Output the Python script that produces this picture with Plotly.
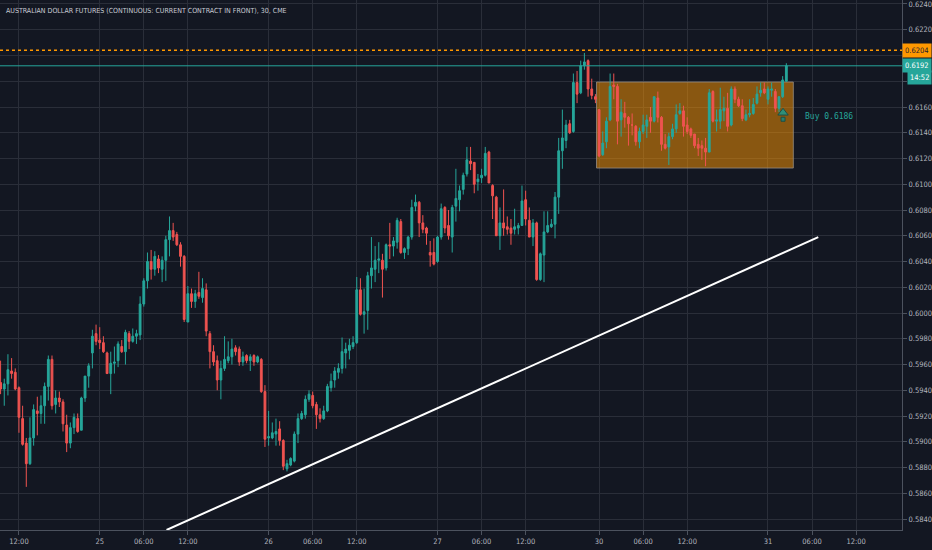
import plotly.graph_objects as go

# 30분봉 AUD 선물 데이터
bar_index = list(range(-5, 210))

opens = [
    0.5946, 0.5941, 0.5945, 0.5955, 0.5954, 0.5942, 0.5918, 0.5899, 0.5883, 0.5903,
    0.5924, 0.5922, 0.5928, 0.5943, 0.5964, 0.5929, 0.5934, 0.5931, 0.5913, 0.5899,
    0.5911, 0.5918, 0.5909, 0.5934, 0.5951, 0.5969, 0.5984, 0.5979, 0.5977, 0.5969,
    0.5953, 0.5961, 0.5963, 0.5974, 0.5970, 0.5984, 0.5978, 0.5982,
    0.5983, 0.6007, 0.6025, 0.6040, 0.6034, 0.6042, 0.6034, 0.6041, 0.6057, 0.6064,
    0.6061, 0.6053, 0.6044, 0.5993, 0.6015, 0.6009, 0.6016, 0.6012, 0.6018, 0.5984,
    0.5970, 0.5963, 0.5948, 0.5957, 0.5963, 0.5966, 0.5973, 0.5972, 0.5962, 0.5967,
    0.5963, 0.5967, 0.5962, 0.5964, 0.5939, 0.5903, 0.5903, 0.5906,
    0.5910, 0.5901, 0.5879, 0.5882, 0.5885, 0.5906, 0.5918, 0.5921, 0.5933, 0.5936,
    0.5929, 0.5921, 0.5918, 0.5924, 0.5942, 0.5948, 0.5954, 0.5957, 0.5969, 0.5971,
    0.5974, 0.5977, 0.6018, 0.5999, 0.6002, 0.6029, 0.6034, 0.6041, 0.6041, 0.6035,
    0.6053, 0.6052, 0.6055, 0.6071,
    0.6047, 0.6050, 0.6059, 0.6083, 0.6086, 0.6070, 0.6066, 0.6047, 0.6047, 0.6040,
    0.6059, 0.6082, 0.6068, 0.6059, 0.6083, 0.6088, 0.6096, 0.6108, 0.6118, 0.6117,
    0.6102, 0.6105, 0.6107, 0.6125, 0.6099, 0.6090, 0.6060, 0.6070, 0.6067, 0.6066,
    0.6065, 0.6066, 0.6068, 0.6088, 0.6072, 0.6059, 0.6070, 0.6026, 0.6045, 0.6063,
    0.6067,
    0.6069, 0.6090, 0.6126, 0.6134, 0.6147, 0.6141, 0.6179, 0.6171, 0.6192, 0.6196,
    0.6174, 0.6168, 0.6158, 0.6123, 0.6133, 0.6150, 0.6177, 0.6176, 0.6150, 0.6155,
    0.6152, 0.6146, 0.6145, 0.6133, 0.6141, 0.6145, 0.6152, 0.6149, 0.6167, 0.6152,
    0.6131, 0.6129,
    0.6137, 0.6143, 0.6155, 0.6157, 0.6146, 0.6143, 0.6139, 0.6131, 0.6130, 0.6128,
    0.6125, 0.6172, 0.6149, 0.6149, 0.6157, 0.6159, 0.6146, 0.6174, 0.6166, 0.6161,
    0.6150, 0.6154, 0.6155, 0.6163, 0.6171, 0.6174, 0.6166, 0.6173, 0.6172, 0.6159,
    0.6168, 0.6180,
]

highs = [
    0.5963, 0.5949, 0.5968, 0.5965, 0.5957, 0.5943, 0.5928, 0.5903, 0.5919, 0.5929,
    0.5935, 0.5936, 0.5946, 0.5967, 0.5967, 0.5940, 0.5939, 0.5933, 0.5921, 0.5915,
    0.5922, 0.5922, 0.5935, 0.5951, 0.5961, 0.5987, 0.5991, 0.5989, 0.5982, 0.5970,
    0.5970, 0.5974, 0.5978, 0.5979, 0.5987, 0.5986, 0.5988, 0.5987,
    0.6013, 0.6027, 0.6047, 0.6049, 0.6048, 0.6045, 0.6044, 0.6060, 0.6075, 0.6070,
    0.6063, 0.6055, 0.6045, 0.6021, 0.6019, 0.6018, 0.6032, 0.6027, 0.6023, 0.5986,
    0.5975, 0.5967, 0.5963, 0.5982, 0.5978, 0.5980, 0.5975, 0.5974, 0.5970, 0.5968,
    0.5968, 0.5968, 0.5967, 0.5965, 0.5944, 0.5924, 0.5915, 0.5918,
    0.5916, 0.5902, 0.5886, 0.5888, 0.5908, 0.5922, 0.5924, 0.5936, 0.5940, 0.5939,
    0.5931, 0.5926, 0.5928, 0.5945, 0.5953, 0.5958, 0.5961, 0.5981, 0.5977, 0.5980,
    0.5982, 0.6028, 0.6027, 0.6019, 0.6032, 0.6059, 0.6052, 0.6055, 0.6046, 0.6054,
    0.6070, 0.6059, 0.6074, 0.6073,
    0.6051, 0.6060, 0.6088, 0.6092, 0.6087, 0.6076, 0.6067, 0.6056, 0.6058, 0.6060,
    0.6085, 0.6083, 0.6080, 0.6084, 0.6112, 0.6099, 0.6109, 0.6129, 0.6129, 0.6117,
    0.6108, 0.6112, 0.6129, 0.6126, 0.6100, 0.6091, 0.6082, 0.6096, 0.6075, 0.6073,
    0.6081, 0.6070, 0.6099, 0.6095, 0.6082, 0.6073, 0.6071, 0.6047, 0.6079, 0.6079,
    0.6073,
    0.6094, 0.6136, 0.6158, 0.6150, 0.6150, 0.6186, 0.6188, 0.6196, 0.6202, 0.6197,
    0.6182, 0.6170, 0.6158, 0.6141, 0.6152, 0.6186, 0.6186, 0.6178, 0.6166, 0.6164,
    0.6153, 0.6155, 0.6146, 0.6144, 0.6154, 0.6154, 0.6160, 0.6168, 0.6172, 0.6153,
    0.6139, 0.6140,
    0.6147, 0.6162, 0.6163, 0.6161, 0.6152, 0.6144, 0.6139, 0.6136, 0.6134, 0.6136,
    0.6174, 0.6173, 0.6158, 0.6175, 0.6168, 0.6171, 0.6176, 0.6176, 0.6168, 0.6166,
    0.6158, 0.6166, 0.6167, 0.6176, 0.6179, 0.6179, 0.6176, 0.6179, 0.6174, 0.6168,
    0.6184, 0.6194,
]

lows = [
    0.5937, 0.5928, 0.5936, 0.5949, 0.5940, 0.5907, 0.5897, 0.5865, 0.5882, 0.5897,
    0.5905, 0.5914, 0.5914, 0.5932, 0.5925, 0.5922, 0.5927, 0.5908, 0.5892, 0.5895,
    0.5906, 0.5907, 0.5909, 0.5931, 0.5942, 0.5957, 0.5975, 0.5972, 0.5969, 0.5953,
    0.5937, 0.5953, 0.5958, 0.5969, 0.5960, 0.5972, 0.5977, 0.5976,
    0.5979, 0.6005, 0.6019, 0.6026, 0.6029, 0.6031, 0.6024, 0.6025, 0.6044, 0.6056,
    0.6052, 0.6036, 0.5993, 0.5993, 0.6004, 0.6004, 0.6011, 0.6008, 0.5982, 0.5957,
    0.5959, 0.5940, 0.5933, 0.5955, 0.5961, 0.5960, 0.5967, 0.5959, 0.5959, 0.5961,
    0.5955, 0.5959, 0.5961, 0.5938, 0.5896, 0.5897, 0.5902, 0.5897,
    0.5897, 0.5878, 0.5877, 0.5881, 0.5884, 0.5899, 0.5917, 0.5918, 0.5931, 0.5926,
    0.5910, 0.5915, 0.5917, 0.5923, 0.5939, 0.5942, 0.5949, 0.5953, 0.5957, 0.5964,
    0.5972, 0.5976, 0.5998, 0.5984, 0.5987, 0.6019, 0.6024, 0.6031, 0.6012, 0.6033,
    0.6042, 0.6044, 0.6050, 0.6046,
    0.6042, 0.6045, 0.6057, 0.6079, 0.6059, 0.6062, 0.6053, 0.6036, 0.6037, 0.6039,
    0.6057, 0.6062, 0.6057, 0.6047, 0.6071, 0.6079, 0.6092, 0.6106, 0.6111, 0.6093,
    0.6095, 0.6101, 0.6106, 0.6101, 0.6073, 0.6060, 0.6049, 0.6060, 0.6061, 0.6053,
    0.6061, 0.6061, 0.6068, 0.6068, 0.6059, 0.6052, 0.6025, 0.6025, 0.6024, 0.6062,
    0.6066,
    0.6058, 0.6077, 0.6112, 0.6128, 0.6139, 0.6140, 0.6163, 0.6170, 0.6189, 0.6168,
    0.6166, 0.6163, 0.6121, 0.6122, 0.6128, 0.6149, 0.6166, 0.6131, 0.6137, 0.6144,
    0.6130, 0.6138, 0.6130, 0.6128, 0.6139, 0.6136, 0.6140, 0.6148, 0.6148, 0.6126,
    0.6127, 0.6115,
    0.6135, 0.6140, 0.6154, 0.6137, 0.6139, 0.6136, 0.6128, 0.6122, 0.6119, 0.6114,
    0.6125, 0.6148, 0.6141, 0.6143, 0.6149, 0.6141, 0.6145, 0.6163, 0.6160, 0.6149,
    0.6149, 0.6152, 0.6154, 0.6162, 0.6168, 0.6170, 0.6162, 0.6168, 0.6156, 0.6156,
    0.6167, 0.6180,
]

closes = [
    0.5941, 0.5945, 0.5956, 0.5953, 0.5941, 0.5919, 0.5898, 0.5883, 0.5903, 0.5925,
    0.5922, 0.5928, 0.5943, 0.5964, 0.5928, 0.5934, 0.5931, 0.5914, 0.5899, 0.5911,
    0.5919, 0.5908, 0.5934, 0.5951, 0.5959, 0.5982, 0.5978, 0.5977, 0.5970, 0.5953,
    0.5961, 0.5962, 0.5976, 0.5970, 0.5985, 0.5978, 0.5982, 0.5984,
    0.6007, 0.6025, 0.6040, 0.6034, 0.6044, 0.6035, 0.6041, 0.6057, 0.6064, 0.6059,
    0.6053, 0.6044, 0.5995, 0.6015, 0.6009, 0.6015, 0.6013, 0.6019, 0.5986, 0.5970,
    0.5962, 0.5948, 0.5957, 0.5964, 0.5966, 0.5972, 0.5970, 0.5962, 0.5966, 0.5963,
    0.5966, 0.5962, 0.5966, 0.5939, 0.5902, 0.5904, 0.5907, 0.5908,
    0.5901, 0.5881, 0.5883, 0.5887, 0.5906, 0.5918, 0.5922, 0.5933, 0.5937, 0.5928,
    0.5921, 0.5918, 0.5924, 0.5943, 0.5947, 0.5955, 0.5957, 0.5970, 0.5972, 0.5975,
    0.5977, 0.6018, 0.5999, 0.6001, 0.6029, 0.6035, 0.6041, 0.6042, 0.6034, 0.6053,
    0.6052, 0.6056, 0.6072, 0.6047,
    0.6050, 0.6059, 0.6082, 0.6086, 0.6070, 0.6065, 0.6062, 0.6045, 0.6038, 0.6059,
    0.6081, 0.6066, 0.6060, 0.6082, 0.6089, 0.6095, 0.6107, 0.6119, 0.6116, 0.6100,
    0.6104, 0.6107, 0.6124, 0.6101, 0.6091, 0.6060, 0.6070, 0.6066, 0.6065, 0.6062,
    0.6067, 0.6068, 0.6087, 0.6073, 0.6059, 0.6070, 0.6026, 0.6046, 0.6063, 0.6068,
    0.6069,
    0.6090, 0.6126, 0.6136, 0.6146, 0.6140, 0.6179, 0.6170, 0.6192, 0.6195, 0.6174,
    0.6169, 0.6166, 0.6122, 0.6132, 0.6149, 0.6176, 0.6176, 0.6149, 0.6156, 0.6152,
    0.6147, 0.6146, 0.6133, 0.6141, 0.6146, 0.6150, 0.6149, 0.6168, 0.6152, 0.6131,
    0.6128, 0.6137,
    0.6143, 0.6154, 0.6157, 0.6145, 0.6141, 0.6138, 0.6130, 0.6128, 0.6128, 0.6125,
    0.6171, 0.6149, 0.6150, 0.6158, 0.6159, 0.6145, 0.6174, 0.6166, 0.6161, 0.6151,
    0.6154, 0.6155, 0.6162, 0.6170, 0.6173, 0.6171, 0.6174, 0.6174, 0.6159, 0.6168,
    0.6181, 0.6192,
]

# x축 눈금 (봉 번호 기준)
tick_bars = [0, 22, 34, 46, 68, 80, 92, 114, 126, 138, 158, 170, 182, 204, 216, 228]
tick_labels = ["12:00", "25", "06:00", "12:00", "26", "06:00", "12:00", "27",
               "06:00", "12:00", "30", "06:00", "12:00", "31", "06:00", "12:00"]

# y축 눈금: 0.6200 / 0.6180 은 가격 라벨에 가려짐
price_ticks = [round(0.584 + 0.002 * i, 4) for i in range(21)]
hidden_ticks = [0.6200, 0.6180]
price_labels = ["" if p in hidden_ticks else f"{p:.4f}" for p in price_ticks]

last_price = 0.6192
alert_price = 0.6204
buy_label = "Buy 0.6186"
countdown = "14:52"
countdown_y = 0.61829

# 박스권 / 추세선
range_box = dict(x0=157.3, x1=210.9, y0=0.61126, y1=0.61794)
trend_line = dict(x0=40.2, y0=0.58315, x1=217.7, y1=0.60590)
buy_bar, buy_y = 208.1, 0.61555
buy_stem_y = 0.61505
buy_text_bar, buy_text_y = 213.5, 0.61530

BG = "#131722"
GRID = "#2a2e39"
UP = "#26a69a"
DOWN = "#ef5350"
AXIS_FONT = "Liberation Sans Narrow, DejaVu Sans Condensed, Arial Narrow, sans-serif"

fig = go.Figure()

fig.add_trace(go.Candlestick(
    x=bar_index, open=opens, high=highs, low=lows, close=closes,
    increasing=dict(line=dict(color=UP, width=1), fillcolor=UP),
    decreasing=dict(line=dict(color=DOWN, width=1), fillcolor=DOWN),
    whiskerwidth=0, hoverinfo="skip", showlegend=False))

# 매수 화살표 (머리 + 꼬리)
fig.add_trace(go.Scatter(
    x=[buy_bar], y=[buy_stem_y], mode="markers",
    marker=dict(symbol="square", size=4, color="#2a7f6c",
                line=dict(color="#1b4f46", width=1)),
    hoverinfo="skip", showlegend=False))
fig.add_trace(go.Scatter(
    x=[buy_bar], y=[buy_y], mode="markers",
    marker=dict(symbol="triangle-up", size=9, color="#2f8f78",
                line=dict(color="#1b4f46", width=1)),
    hoverinfo="skip", showlegend=False))

fig.add_shape(type="rect", xref="x", yref="y", layer="between",
              fillcolor="rgba(255,152,0,0.5)",
              line=dict(color="rgba(150,140,130,0.8)", width=1), **range_box)
fig.add_shape(type="line", xref="x", yref="y", line=dict(color="white", width=2),
              **trend_line)
fig.add_shape(type="line", xref="paper", yref="y", x0=0, x1=1,
              y0=alert_price, y1=alert_price,
              line=dict(color="#ff9800", width=1.5, dash="dot"))
fig.add_shape(type="line", xref="paper", yref="y", x0=0, x1=1,
              y0=last_price, y1=last_price, line=dict(color=UP, width=1))

# 제목 및 가격 라벨
fig.add_annotation(xref="paper", yref="paper", x=0.004, y=1 - 11 / 530,
                   xanchor="left", yanchor="middle", showarrow=False,
                   text="AUSTRALIAN DOLLAR FUTURES (CONTINUOUS: CURRENT CONTRACT IN FRONT), 30, CME",
                   font=dict(family=AXIS_FONT, size=7, color="#c9ccd4"))
fig.add_annotation(xref="paper", yref="y", x=1, y=alert_price, xanchor="left",
                   showarrow=False, text=f"{alert_price:.4f}", bgcolor="#ff9800",
                   borderpad=2, font=dict(family=AXIS_FONT, size=7.5, color="#1e222d"))
fig.add_annotation(xref="paper", yref="y", x=1, y=last_price, xanchor="left",
                   showarrow=False, text=f"{last_price:.4f}", bgcolor=UP,
                   borderpad=2, font=dict(family=AXIS_FONT, size=7.5, color="white"))
fig.add_annotation(xref="paper", yref="y", x=1, y=countdown_y, xanchor="left", xshift=5,
                   showarrow=False, text=countdown, bgcolor=UP,
                   borderpad=2, font=dict(family=AXIS_FONT, size=7.5, color="white"))
fig.add_annotation(xref="x", yref="y", x=buy_text_bar, y=buy_text_y, xanchor="left",
                   showarrow=False, text=buy_label,
                   font=dict(family="DejaVu Sans Mono", size=8, color=UP))

fig.update_layout(width=932, height=550,
                  margin=dict(l=0, r=28, t=0, b=20),
                  paper_bgcolor=BG, plot_bgcolor=BG, showlegend=False)

fig.update_xaxes(range=[-5.16, 240.5], tickvals=tick_bars, ticktext=tick_labels,
                 rangeslider_visible=False, showgrid=True, gridcolor=GRID, zeroline=False,
                 showline=True, linecolor="#4c525e", ticks="outside", ticklen=4,
                 tickcolor="#4c525e", tickfont=dict(family=AXIS_FONT, size=7.5, color="#b2b5be"))
fig.update_yaxes(range=[0.58315, 0.62431], side="right", tickvals=price_ticks,
                 ticktext=price_labels, showgrid=True, gridcolor=GRID, zeroline=False,
                 showline=True, linecolor="#4c525e", ticks="outside", ticklen=4,
                 ticklabeloverflow="allow",
                 tickcolor="#4c525e", tickfont=dict(family=AXIS_FONT, size=7.5, color="#b2b5be"))

# 페이지 기본 여백 제거, 툴바 숨김
fig.write_html("out.html", config={"displayModeBar": False},
               post_script="document.body.style.margin='0';")
